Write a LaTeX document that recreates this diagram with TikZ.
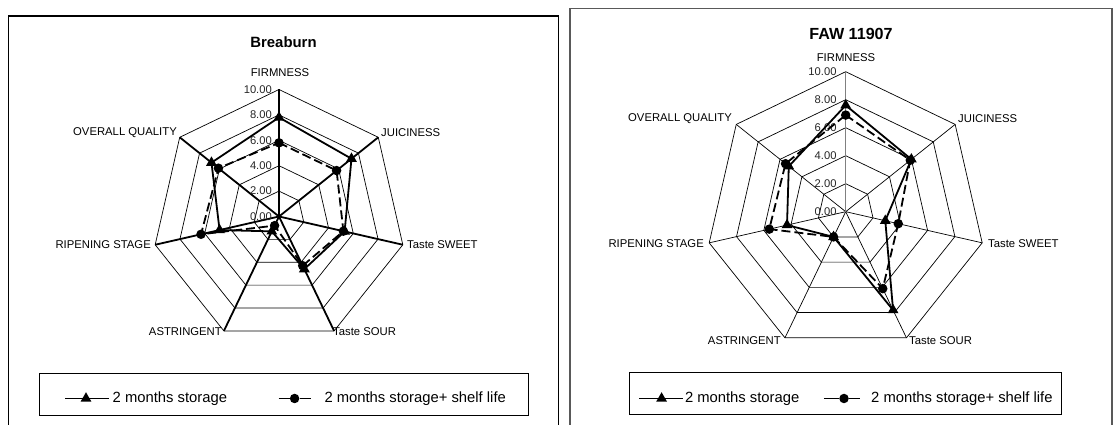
\documentclass[tikz,border=0pt]{standalone}
\usepackage{fontspec}
\setmainfont{Liberation Sans}
\usepackage{tikz}
\usetikzlibrary{shapes.geometric}

\begin{document}
\begin{tikzpicture}[x=1pt, y=1pt,
		ring/.style={line width=0.7pt},
		spoke/.style={line width=0.7pt},
		boldspoke/.style={line width=1.8pt},
		storage/.style={line width=1.8pt, line join=round},
		shelf/.style={line width=1.8pt, line join=round, dash pattern={on 9pt off 4pt}},
		tri/.style={regular polygon, regular polygon sides=3, fill=black, inner sep=0pt, minimum size=12.5pt},
		dot/.style={circle, fill=black, inner sep=0pt, minimum size=9.5pt},
		axlabel/.style={font=\fontsize{11.3}{12}\selectfont, inner sep=0pt},
		ticklabel/.style={font=\fontsize{11.2}{12}\selectfont, anchor=east, inner sep=0pt, text=black!85},
		legtext/.style={font=\fontsize{14.8}{16}\selectfont, anchor=west, inner sep=0pt}]
	\useasboundingbox (0,0) rectangle (1119,425);
	% Panels and titles:
	\draw[line width=1.2pt] (8.6,0) |- (558.7,409) -- (558.7,0);
	\draw[line width=1.2pt, black!65] (570,0) |- (1112,416.4) -- (1112,0);
	\node[font=\bfseries\fontsize{14.9}{16}\selectfont] (titleA) at (283.5,383) {Breaburn};
	\node[font=\bfseries\fontsize{16.1}{18}\selectfont] (titleB) at (851,391) {FAW 11907};

	% Breaburn radar:
	\begin{scope}[shift={(279,208.5)}]
		\foreach \r in {2,4,6,8,10}
			\draw[ring] (90:{12.7*\r}) \foreach \k in {1,...,6} {-- ({90-\k*360/7}:{12.7*\r})} -- cycle;
		\foreach \k in {0,...,6}
			\draw[boldspoke] (0,0) -- ({90-\k*360/7}:127);
		\foreach \r in {0,2,...,10}
			\node[ticklabel] (tickA\r) at (-7,{12.7*\r}) {\r.00};
		\foreach \v [count=\k from 0] in {7.8,7.3,5.3,4.6,1.3,4.8,6.8}
			\coordinate (sA\k) at ({90-\k*360/7}:{12.7*\v});
		\foreach \v [count=\k from 0] in {5.8,5.8,5.2,4.3,0.8,6.3,6.1}
			\coordinate (lA\k) at ({90-\k*360/7}:{12.7*\v});
		\draw[storage] (sA0) -- (sA1) -- (sA2) -- (sA3) -- (sA4) -- (sA5) -- (sA6) -- cycle;
		\draw[shelf] (lA0) -- (lA1) -- (lA2) -- (lA3) -- (lA4) -- (lA5) -- (lA6) -- cycle;
		\foreach \k in {0,...,6}
			\node[tri] (msA\k) at (sA\k) {};
		\foreach \k in {0,...,6}
			\node[dot] (mlA\k) at (lA\k) {};
	\end{scope}
	\node[axlabel] (firmA) at (280,352) {FIRMNESS};
	\node[axlabel, anchor=west] (juiceA) at (381,292) {JUICINESS};
	\node[axlabel, anchor=west] (sweetA) at (407,180) {Taste SWEET};
	\node[axlabel, anchor=west] (sourA) at (333,93) {Taste SOUR};
	\node[axlabel, anchor=east] (astrA) at (222,93) {ASTRINGENT};
	\node[axlabel, anchor=east] (ripeA) at (151,180) {RIPENING STAGE};
	\node[axlabel, anchor=east] (overA) at (177,292) {OVERALL QUALITY};

	% FAW 11907 radar:
	\begin{scope}[shift={(845.7,213.3)}]
		\foreach \r in {2,4,6,8,10}
			\draw[ring] (90:{14*\r}) \foreach \k in {1,...,6} {-- ({90-\k*360/7}:{14*\r})} -- cycle;
		\foreach \k in {1,...,6}
			\draw[spoke] (0,0) -- ({90-\k*360/7}:140);
		\draw[spoke, black!50] (0,0) -- (90:140);
		\foreach \r in {0,2,...,10}
			\node[ticklabel] (tickB\r) at (-9,{14*\r}) {\r.00};
		\foreach \v [count=\k from 0] in {7.6,6.0,2.9,7.8,2.0,4.3,5.2}
			\coordinate (sB\k) at ({90-\k*360/7}:{14*\v});
		\foreach \v [count=\k from 0] in {6.9,5.9,3.85,6.1,2.0,5.6,5.5}
			\coordinate (lB\k) at ({90-\k*360/7}:{14*\v});
		\draw[storage] (sB0) -- (sB1) -- (sB2) -- (sB3) -- (sB4) -- (sB5) -- (sB6) -- cycle;
		\draw[shelf] (lB0) -- (lB1) -- (lB2) -- (lB3) -- (lB4) -- (lB5) -- (lB6) -- cycle;
		\foreach \k in {0,...,6}
			\node[tri] (msB\k) at (sB\k) {};
		\foreach \k in {0,...,6}
			\node[dot] (mlB\k) at (lB\k) {};
	\end{scope}
	\node[axlabel] (firmB) at (846,367) {FIRMNESS};
	\node[axlabel, anchor=west] (juiceB) at (958,306) {JUICINESS};
	\node[axlabel, anchor=west] (sweetB) at (988,181) {Taste SWEET};
	\node[axlabel, anchor=west] (sourB) at (909,84.3) {Taste SOUR};
	\node[axlabel, anchor=east] (astrB) at (781,84.3) {ASTRINGENT};
	\node[axlabel, anchor=east] (ripeB) at (704,181) {RIPENING STAGE};
	\node[axlabel, anchor=east] (overB) at (732,306) {OVERALL QUALITY};

	% Legends:
	\draw[line width=0.9pt] (39,10) rectangle (528,52);
	\coordinate (keyA1) at (65,26.5);
	\coordinate (keyA2) at (109,26.5);
	\draw[storage] (keyA1) -- (keyA2);
	\node[tri] (legtriA) at (86,26.5) {};
	\node[legtext] (legsA) at (112.5,26.5) {2 months storage};
	\coordinate (keyA3) at (278.6,26.5);
	\coordinate (keyA4) at (310.7,26.5);
	\draw[shelf, dash pattern={on 11pt off 10pt}] (keyA3) -- (keyA4);
	\node[dot] (legdotA) at (294.6,26.5) {};
	\node[legtext] (leglA) at (324.3,26.5) {2 months storage+ shelf life};

	\draw[line width=0.9pt] (629,11) rectangle (1061,53);
	\coordinate (keyB1) at (639,26.5);
	\coordinate (keyB2) at (683,26.5);
	\draw[storage] (keyB1) -- (keyB2);
	\node[tri] (legtriB) at (661.6,26.5) {};
	\node[legtext] (legsB) at (684.8,26.5) {2 months storage};
	\coordinate (keyB3) at (823.8,26.5);
	\coordinate (keyB4) at (859.5,26.5);
	\draw[shelf, dash pattern={on 15pt off 10pt}] (keyB3) -- (keyB4);
	\node[dot] (legdotB) at (844,26.5) {};
	\node[legtext] (leglB) at (871,26.5) {2 months storage+ shelf life};
\end{tikzpicture}
\end{document}
